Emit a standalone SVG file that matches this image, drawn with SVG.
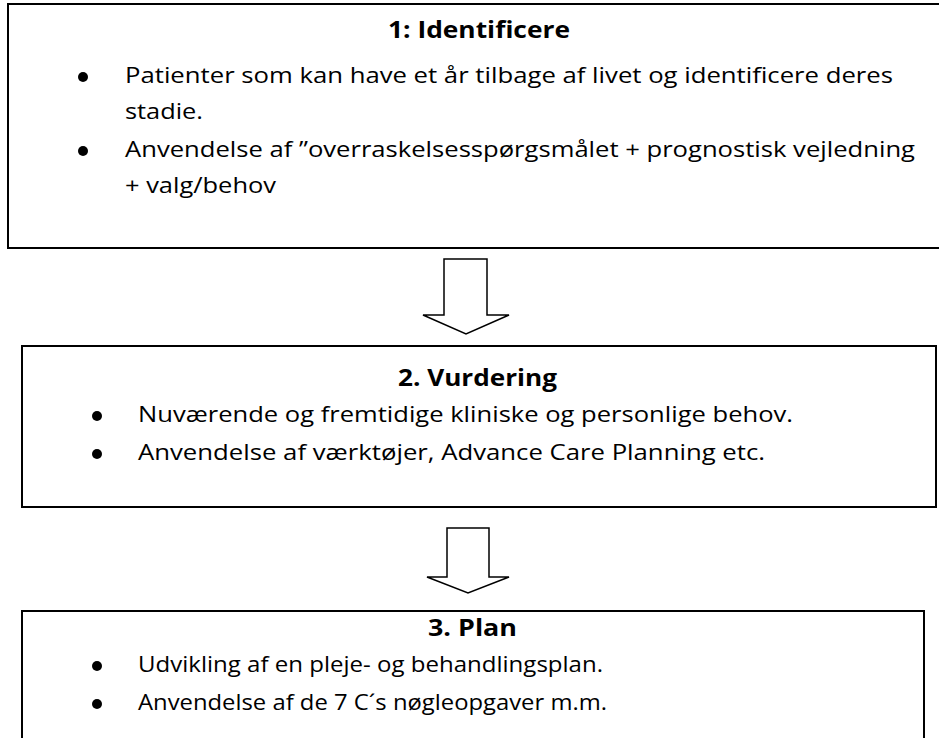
<svg xmlns="http://www.w3.org/2000/svg" width="939" height="738" viewBox="0 0 939 738">
<style>
.box{fill:#fff;stroke:#000;stroke-width:2}
.arrow{fill:#fff;stroke:#000;stroke-width:1.5;stroke-linejoin:miter}
.t{font-family:"Open Sans","Noto Sans","Liberation Sans",sans-serif;fill:#000}
.title{font-size:23px;font-weight:bold}
.body{font-size:22px}
.dot{fill:#000}
</style>
<rect width="939" height="738" fill="#fff"/>
<g id="connectors">
<polygon class="arrow" points="444,259 487,259 487,315 509,315 466,334 423,315 444,315"/>
<polygon class="arrow" points="447,528 489,528 489,577 509,577 468,593 427,577 447,577"/>
</g>
<g id="node1">
<rect class="box" x="8" y="4" width="945" height="244"/>
<text class="t title" x="388" y="38" textLength="182" lengthAdjust="spacingAndGlyphs">1: Identificere</text>
<circle class="dot" cx="83" cy="77" r="5"/>
<text class="t body" x="125" y="83" textLength="768" lengthAdjust="spacingAndGlyphs">Patienter som kan have et år tilbage af livet og identificere deres</text>
<text class="t body" x="125" y="119" textLength="78" lengthAdjust="spacingAndGlyphs">stadie.</text>
<circle class="dot" cx="83" cy="151" r="5"/>
<text class="t body" x="125" y="157" textLength="790" lengthAdjust="spacingAndGlyphs">Anvendelse af ”overraskelsesspørgsmålet + prognostisk vejledning</text>
<text class="t body" x="125" y="193" textLength="151" lengthAdjust="spacingAndGlyphs">+ valg/behov</text>
</g>
<g id="node2">
<rect class="box" x="22" y="346" width="914" height="161"/>
<text class="t title" x="398" y="386" textLength="159" lengthAdjust="spacingAndGlyphs">2. Vurdering</text>
<circle class="dot" cx="97" cy="416" r="5"/>
<text class="t body" x="138" y="422" textLength="655" lengthAdjust="spacingAndGlyphs">Nuværende og fremtidige kliniske og personlige behov.</text>
<circle class="dot" cx="97" cy="454" r="5"/>
<text class="t body" x="138" y="460" textLength="627" lengthAdjust="spacingAndGlyphs">Anvendelse af værktøjer, Advance Care Planning etc.</text>
</g>
<g id="node3">
<rect class="box" x="22" y="611" width="902" height="140"/>
<text class="t title" x="428" y="636" textLength="89" lengthAdjust="spacingAndGlyphs">3. Plan</text>
<circle class="dot" cx="97" cy="666" r="5"/>
<text class="t body" x="138" y="672" textLength="465" lengthAdjust="spacingAndGlyphs">Udvikling af en pleje- og behandlingsplan.</text>
<circle class="dot" cx="97" cy="704" r="5"/>
<text class="t body" x="138" y="710" textLength="469" lengthAdjust="spacingAndGlyphs">Anvendelse af de 7 C´s nøgleopgaver m.m.</text>
</g>
</svg>
